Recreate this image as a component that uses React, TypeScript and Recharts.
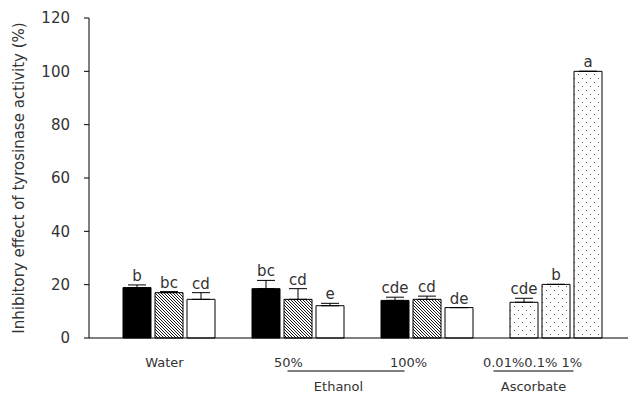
import {
  BarChart,
  Bar,
  XAxis,
  YAxis,
  Cell,
  ErrorBar,
  LabelList,
} from "recharts";

const groups = ["Water", "50%", "100%", "Ascorbate"];
const tickLabels = ["Water", "50%", "100%", "0.01%0.1% 1%"];
const yTicks = [0, 20, 40, 60, 80, 100, 120];

const bar1 = [18.9, 18.5, 14.1, 13.4];
const err1 = [1.0, 3.1, 1.2, 1.5];
const let1 = ["b", "bc", "cde", "cde"];

const bar2 = [17.0, 14.5, 14.5, 20.1];
const err2 = [0.4, 4.0, 1.2, 0];
const let2 = ["bc", "cd", "cd", "b"];

const bar3 = [14.5, 12.1, 11.4, 100];
const err3 = [2.5, 0.9, 0, 0];
const let3 = ["cd", "e", "de", "a"];

const data = groups.map((g, i) => ({
  group: g,
  v1: bar1[i],
  e1: [0, err1[i]],
  l1: let1[i],
  v2: bar2[i],
  e2: [0, err2[i]],
  l2: let2[i],
  v3: bar3[i],
  e3: [0, err3[i]],
  l3: let3[i],
}));

const FONT = "'DejaVu Sans', sans-serif";
const TXT = "#333";

const fillFor = (series: number, i: number) => {
  if (i === 3) return "url(#dots)";
  if (series === 0) return "#000";
  if (series === 1) return "url(#hatch)";
  return "#fff";
};

const makeLetter = (vals: number[], errs: number[]) => (props: any) => {
  const { x, y, width, height, value, index } = props;
  const v = vals[index];
  const pxPerUnit = v ? height / v : 0;
  const top = y - errs[index] * pxPerUnit;
  return (
    <text
      x={x + width / 2}
      y={top - 4}
      textAnchor="middle"
      fontSize={15}
      fontFamily={FONT}
      fill={TXT}
    >
      {value}
    </text>
  );
};

const GroupTick = (props: any) => {
  const { x, y, index } = props;
  const base = y + 29;
  const t = (dx: number, s: string, yy = base) => (
    <text x={x + dx} y={yy} textAnchor="middle" fontSize={13} fontFamily={FONT} fill={TXT}>
      {s}
    </text>
  );
  if (index === 0) return <g>{t(-4, tickLabels[0])}</g>;
  if (index === 1)
    return (
      <g>
        {t(-9, tickLabels[1])}
        <line x1={x - 10} x2={x + 107} y1={y + 33} y2={y + 33} stroke="#000" />
        {t(41, "Ethanol", y + 53)}
      </g>
    );
  if (index === 2) return <g>{t(-18, tickLabels[2])}</g>;
  return (
    <g>
      {t(-23, tickLabels[3])}
      <line x1={x - 62} x2={x + 18} y1={y + 33} y2={y + 33} stroke="#000" />
      {t(-22, "Ascorbate", y + 53)}
    </g>
  );
};

const YLabel = (props: any) => {
  const { viewBox } = props;
  const cx = viewBox.x + 14;
  const cy = viewBox.y + viewBox.height / 2;
  return (
    <text
      x={cx}
      y={cy}
      transform={`rotate(-90, ${cx}, ${cy})`}
      textAnchor="middle"
      dominantBaseline="central"
      fontSize={15}
      fontFamily={FONT}
      fill={TXT}
    >
      Inhibitory effect of  tyrosinase activity (%)
    </text>
  );
};

export default function App() {
  const series = [
    { v: "v1", e: "e1", l: "l1", vals: bar1, errs: err1 },
    { v: "v2", e: "e2", l: "l2", vals: bar2, errs: err2 },
    { v: "v3", e: "e3", l: "l3", vals: bar3, errs: err3 },
  ];
  return (
    <div style={{ position: "absolute", left: 0, top: 0, background: "#fff" }}>
      <BarChart
        width={638}
        height={401}
        data={data}
        margin={{ top: 18, right: 10, left: 5, bottom: 12 }}
        barSize={28}
        barGap={4}
        barCategoryGap={18}
      >
        <defs>
          <pattern id="hatch" patternUnits="userSpaceOnUse" width="3" height="3">
            <rect width="3" height="3" fill="#fff" />
            <path d="M0,0 L3,3 M-1,2 L1,4 M2,-1 L4,1" stroke="#000" strokeWidth="0.9" />
          </pattern>
          <pattern id="dots" patternUnits="userSpaceOnUse" width="8" height="8">
            <rect width="8" height="8" fill="#fff" />
            <rect x="2" y="2" width="1" height="1" fill="#555" />
            <rect x="6" y="6" width="1" height="1" fill="#555" />
          </pattern>
        </defs>
        <XAxis
          dataKey="group"
          height={51}
          tickLine={false}
          tickSize={0}
          tickMargin={0}
          axisLine={{ stroke: "#000" }}
          padding={{ left: 15, right: 8 }}
          tick={<GroupTick />}
          interval={0}
        />
        <XAxis
          xAxisId="top"
          dataKey="group"
          orientation="top"
          height={0}
          tick={false}
          tickLine={false}
          axisLine={{ stroke: "#000" }}
        />
        <YAxis
          domain={[0, 120]}
          ticks={yTicks}
          width={84}
          tickSize={5}
          tickMargin={14}
          interval={0}
          axisLine={{ stroke: "#000" }}
          tickLine={{ stroke: "#000" }}
          tick={{ fontSize: 15, fontFamily: FONT, fill: TXT }}
          label={<YLabel />}
        />
        <YAxis
          yAxisId="right"
          orientation="right"
          domain={[0, 120]}
          width={0}
          tick={false}
          tickLine={false}
          axisLine={{ stroke: "#000" }}
        />
        {series.map((s, si) => (
          <Bar
            key={s.v}
            dataKey={s.v}
            stroke="#000"
            strokeWidth={1}
            isAnimationActive={false}
          >
            {data.map((_, i) => (
              <Cell key={i} fill={fillFor(si, i)} />
            ))}
            <ErrorBar
              dataKey={s.e}
              width={9}
              stroke="#000"
              strokeWidth={1}
              direction="y"
              isAnimationActive={false}
            />
            <LabelList dataKey={s.l} content={makeLetter(s.vals, s.errs)} />
          </Bar>
        ))}
      </BarChart>
    </div>
  );
}
